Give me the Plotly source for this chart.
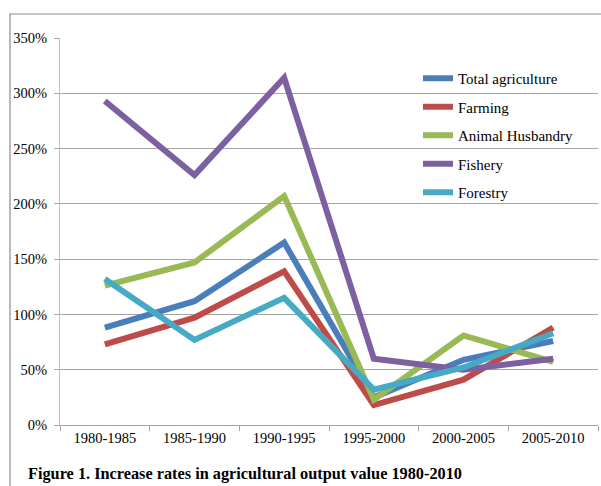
import plotly.graph_objects as go

periods = ["1980-1985", "1985-1990", "1990-1995", "1995-2000", "2000-2005", "2005-2010"]
total_agriculture = [88, 112, 165, 25, 59, 76]
farming = [73, 97, 139, 18, 41, 88]
animal_husbandry = [126, 147, 207, 23, 81, 57]
fishery = [293, 226, 314, 60, 50, 60]
forestry = [132, 77, 115, 32, 52, 83]

series = [
    ("Total agriculture", total_agriculture, "#4a7ebb"),
    ("Farming", farming, "#be4b48"),
    ("Animal Husbandry", animal_husbandry, "#98b954"),
    ("Fishery", fishery, "#7d60a0"),
    ("Forestry", forestry, "#46aac5"),
]

FONT = "Liberation Serif, Times New Roman, serif"

fig = go.Figure()
for i, (name, vals, color) in enumerate(series):
    fig.add_trace(go.Scatter(
        x=periods, y=[v / 100 for v in vals], name=name, mode="lines",
        line=dict(color=color, width=6), legendgroup=f"g{i}",
    ))

W, H = 601, 486
L, R, T, B = 60, 3, 38, 61
pw, ph = W - L - R, H - T - B

def px_x(x):
    return (x - L) / pw

def px_y(y):
    return (H - B - y) / ph

fig.update_layout(
    width=W, height=H,
    margin=dict(l=L, r=R, t=T, b=B),
    paper_bgcolor="white", plot_bgcolor="white",
    font=dict(family=FONT, size=15, color="black"),
    showlegend=True,
    legend=dict(
        x=px_x(418), y=px_y(62), xanchor="left", yanchor="top",
        bgcolor="rgba(0,0,0,0)", font=dict(family=FONT, size=15, color="black"),
        tracegroupgap=6, itemwidth=30,
    ),
    xaxis=dict(
        type="category", showgrid=False, showline=True, linecolor="#a6a6a6",
        ticks="outside", tickson="boundaries", ticklen=5, tickcolor="#a6a6a6",
        range=[-0.5, 5.5], tickfont=dict(family=FONT, size=14.5),
    ),
    yaxis=dict(
        range=[0, 3.5], dtick=0.5, tickformat=".0%", showgrid=True,
        gridcolor="#a6a6a6", gridwidth=1, showline=True, linecolor="#bfbfbf",
        ticks="outside", ticklen=5, tickcolor="#a6a6a6", zeroline=False,
        tickfont=dict(family=FONT, size=14.5), ticklabelstandoff=4,
    ),
    shapes=[dict(
        type="rect", xref="paper", yref="paper",
        x0=px_x(10), x1=px_x(620), y0=px_y(500), y1=px_y(14),
        line=dict(color="#8c8c8c", width=1.2), fillcolor="rgba(0,0,0,0)", layer="below",
    )],
    annotations=[dict(
        text="<b>Figure 1. Increase rates in agricultural output value 1980-2010</b>",
        xref="paper", yref="paper", x=px_x(26), y=px_y(473),
        xanchor="left", yanchor="middle", showarrow=False,
        font=dict(family=FONT, size=16.3, color="black"),
    )],
)

fig.write_html("out.html")
